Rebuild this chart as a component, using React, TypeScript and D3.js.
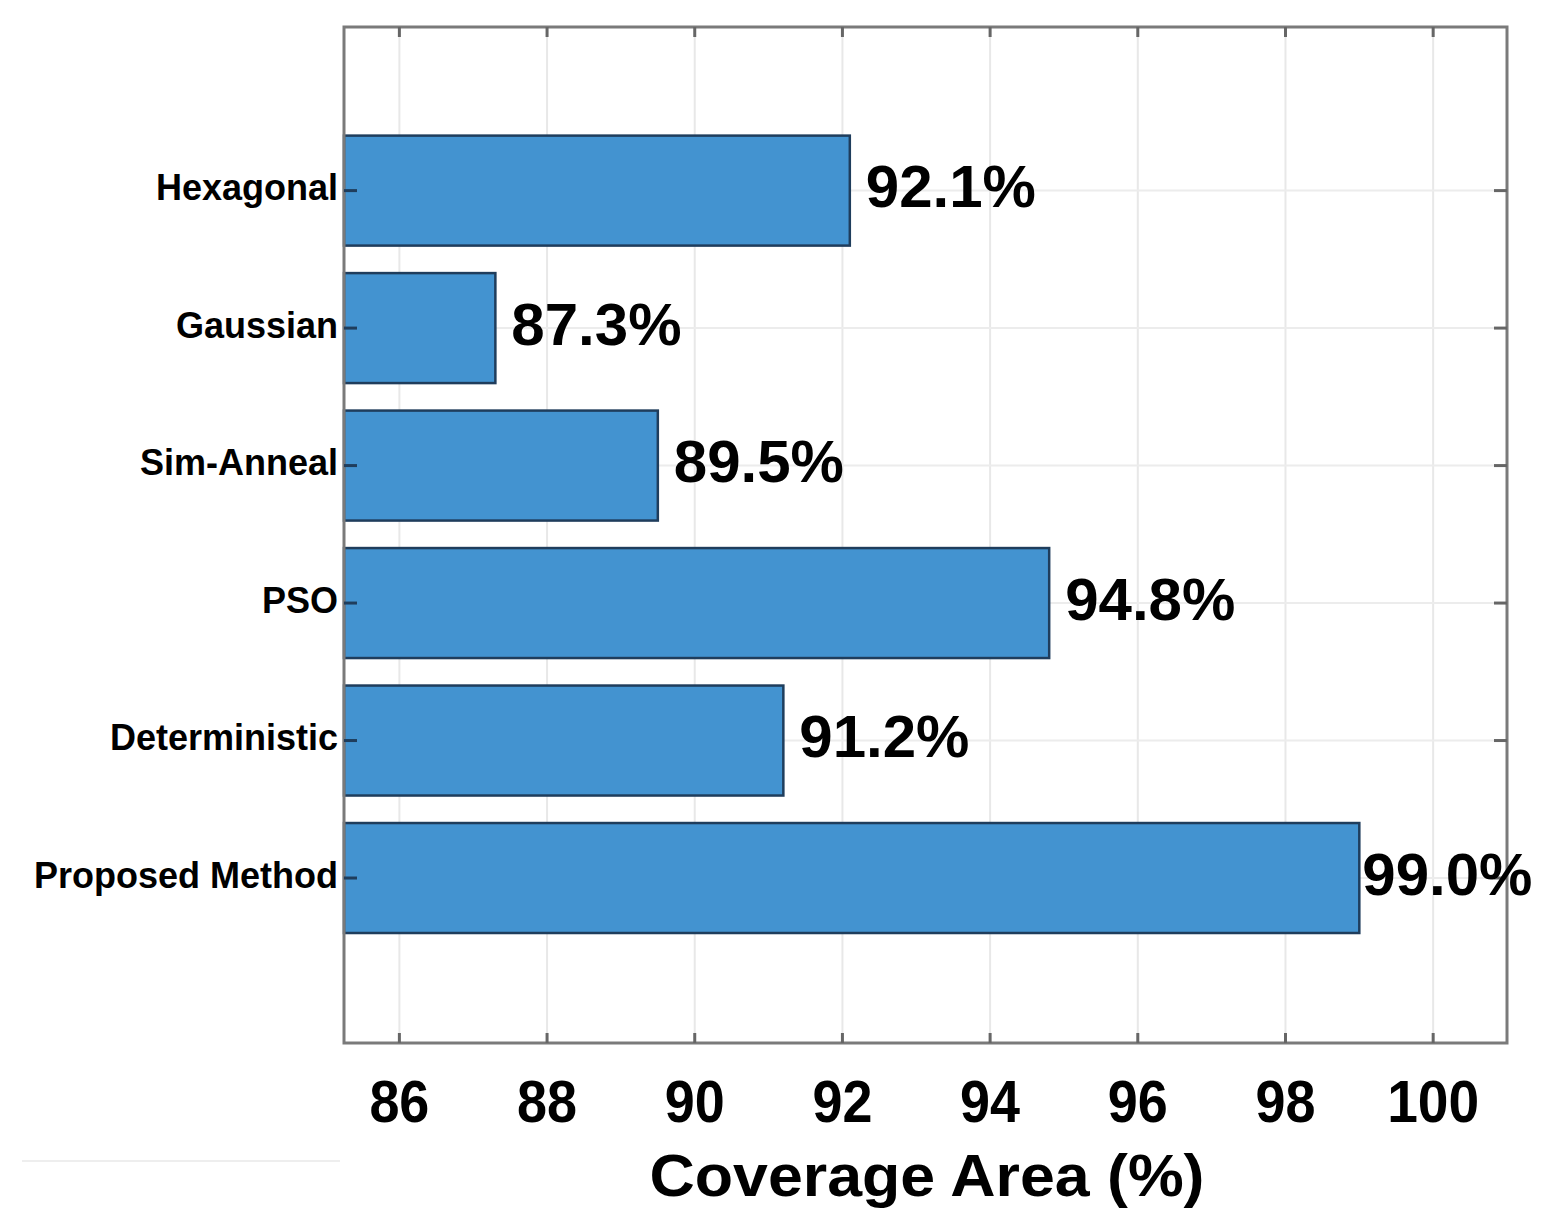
import React, { useEffect, useRef } from 'react';
import * as d3 from 'd3';

const categories = ['Hexagonal', 'Gaussian', 'Sim-Anneal', 'PSO', 'Deterministic', 'Proposed Method'];
const coverage = [92.1, 87.3, 89.5, 94.8, 91.2, 99.0];
const valueLabels = ['92.1%', '87.3%', '89.5%', '94.8%', '91.2%', '99.0%'];
const xTicks = [86, 88, 90, 92, 94, 96, 98, 100];

const W = 1553;
const H = 1230;

export default function App() {
  const ref = useRef<SVGSVGElement>(null);

  useEffect(() => {
    if (!ref.current) return;
    const svg = d3.select(ref.current);
    svg.selectAll('*').remove();

    const left = 344;
    const right = 1507;
    const top = 27;
    const bottom = 1043;

    const x = d3.scaleLinear().domain([85.25, 101.0]).range([left, right]);
    // category index -> bar centre
    const y = d3.scaleLinear().domain([-1.19, 6.2]).range([top, bottom]);
    const step = y(1) - y(0);
    const barH = step * 0.8;

    const font = 'Arial, "Liberation Sans", Helvetica, sans-serif';

    svg.append('rect').attr('width', W).attr('height', H).attr('fill', '#fff');

    // grid
    const grid = svg.append('g');
    grid.selectAll('line.v')
      .data(xTicks)
      .enter()
      .append('line')
      .attr('x1', d => x(d))
      .attr('x2', d => x(d))
      .attr('y1', top)
      .attr('y2', bottom)
      .attr('stroke', '#e8e8e8')
      .attr('stroke-width', 2);
    grid.selectAll('line.h')
      .data(categories)
      .enter()
      .append('line')
      .attr('x1', left)
      .attr('x2', right)
      .attr('y1', (d, i) => y(i))
      .attr('y2', (d, i) => y(i))
      .attr('stroke', '#ececec')
      .attr('stroke-width', 2);

    // bars
    svg.append('g')
      .selectAll('rect')
      .data(coverage)
      .enter()
      .append('rect')
      .attr('x', x(85.25))
      .attr('y', (d, i) => y(i) - barH / 2)
      .attr('width', d => x(d) - x(85.25))
      .attr('height', barH)
      .attr('fill', '#4393d0')
      .attr('stroke', '#1f3d5c')
      .attr('stroke-width', 2.5);

    // frame
    svg.append('rect')
      .attr('x', left)
      .attr('y', top)
      .attr('width', right - left)
      .attr('height', bottom - top)
      .attr('fill', 'none')
      .attr('stroke', '#7a7a7a')
      .attr('stroke-width', 3);

    // tick marks
    const ticks = svg.append('g').attr('stroke', '#666').attr('stroke-width', 3);
    xTicks.forEach(t => {
      ticks.append('line').attr('x1', x(t)).attr('x2', x(t)).attr('y1', top).attr('y2', top + 10);
      ticks.append('line').attr('x1', x(t)).attr('x2', x(t)).attr('y1', bottom).attr('y2', bottom - 10);
    });
    categories.forEach((c, i) => {
      ticks.append('line').attr('x1', left).attr('x2', left + 13).attr('y1', y(i)).attr('y2', y(i))
        .attr('stroke', '#1f3d5c');
      ticks.append('line').attr('x1', right).attr('x2', right - 13).attr('y1', y(i)).attr('y2', y(i));
    });

    // category labels
    svg.append('g')
      .selectAll('text')
      .data(categories)
      .enter()
      .append('text')
      .attr('x', left - 6)
      .attr('y', (d, i) => y(i) - 3)
      .attr('dy', '0.35em')
      .attr('text-anchor', 'end')
      .style('font-family', font)
      .style('font-weight', 'bold')
      .style('font-size', '36px')
      .attr('fill', '#000')
      .text(d => d);

    // value labels
    svg.append('g')
      .selectAll('text')
      .data(coverage)
      .enter()
      .append('text')
      .attr('x', (d, i) => x(d) + (i === coverage.length - 1 ? 3 : 16))
      .attr('y', (d, i) => y(i) - 5)
      .attr('dy', '0.36em')
      .style('font-family', font)
      .style('font-weight', 'bold')
      .style('font-size', '60px')
      .attr('fill', '#000')
      .text((d, i) => valueLabels[i]);

    // x tick labels
    svg.append('g')
      .selectAll('text')
      .data(xTicks)
      .enter()
      .append('text')
      .attr('x', d => x(d))
      .attr('y', 1122)
      .attr('text-anchor', 'middle')
      .attr('textLength', d => (d >= 100 ? 92 : 60))
      .attr('lengthAdjust', 'spacingAndGlyphs')
      .style('font-family', font)
      .style('font-weight', 'bold')
      .style('font-size', '60px')
      .attr('fill', '#000')
      .text(d => d);

    // x axis title
    svg.append('text')
      .attr('x', 927)
      .attr('y', 1196)
      .attr('text-anchor', 'middle')
      .attr('textLength', 555)
      .attr('lengthAdjust', 'spacingAndGlyphs')
      .style('font-family', font)
      .style('font-weight', 'bold')
      .style('font-size', '60px')
      .attr('fill', '#000')
      .text('Coverage Area (%)');

    // faint stray rule at lower left
    svg.append('line')
      .attr('x1', 22).attr('x2', 340)
      .attr('y1', 1161).attr('y2', 1161)
      .attr('stroke', '#eeeeee')
      .attr('stroke-width', 2);
  }, []);

  return (
    <svg
      ref={ref}
      width={W}
      height={H}
      style={{ position: 'absolute', left: 0, top: 0, display: 'block' }}
    />
  );
}
